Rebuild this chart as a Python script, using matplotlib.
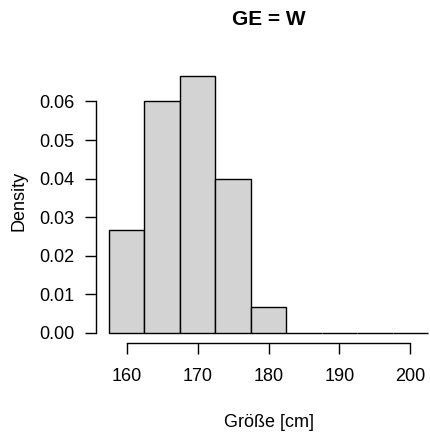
import numpy as np
import matplotlib
matplotlib.use('Agg')
import matplotlib.pyplot as plt

plt.rcParams['font.family'] = ['Liberation Sans', 'DejaVu Sans']

# histogram data
bin_left = [157.5, 162.5, 167.5, 172.5, 177.5, 182.5, 187.5, 192.5, 197.5]
bin_width = 5.0
density = [0.0267, 0.0600, 0.0667, 0.0400, 0.0067, 0.0, 0.0, 0.0, 0.0]
x_ticks = [160, 170, 180, 190, 200]
y_ticks = [0.00, 0.01, 0.02, 0.03, 0.04, 0.05, 0.06]

fig = plt.figure(figsize=(4.30, 4.38), dpi=100)
ax = fig.add_axes([0.2233, 0.2169, 0.8023, 0.6338])

ax.bar(bin_left, density, width=bin_width, align='edge',
       color='#D3D3D3', edgecolor='black', linewidth=1.0)

# R style axis ranges (4% extension)
xr = bin_left[-1] + bin_width - bin_left[0]
ax.set_xlim(bin_left[0] - 0.04 * xr, bin_left[-1] + bin_width + 0.04 * xr)
ax.set_ylim(-0.04 * max(density), 1.04 * max(density))

for s in ['top', 'right']:
    ax.spines[s].set_visible(False)
ax.spines['left'].set_bounds(y_ticks[0], y_ticks[-1])
ax.spines['bottom'].set_bounds(x_ticks[0], x_ticks[-1])
ax.spines['left'].set_linewidth(1.0)
ax.spines['bottom'].set_linewidth(1.0)

ax.set_xticks(x_ticks)
ax.set_xticklabels([str(t) for t in x_ticks])
ax.set_yticks(y_ticks)
ax.set_yticklabels(['%.2f' % t for t in y_ticks])
ax.tick_params(axis='both', direction='out', length=7.7, width=1.0,
               labelsize=13, pad=8)
ax.tick_params(axis='x', pad=10.5)

ax.set_xlabel('Größe [cm]', fontsize=13, va='center')
ax.xaxis.set_label_coords(0.5, -0.2846)
ax.set_ylabel('Density', fontsize=13, va='center')
ax.yaxis.set_label_coords(-0.2246, 0.5115)
ax.set_title('GE = W', fontsize=15, fontweight='bold', va='center',
             y=1.1646, pad=0)

fig.savefig('out.png', dpi=100)
